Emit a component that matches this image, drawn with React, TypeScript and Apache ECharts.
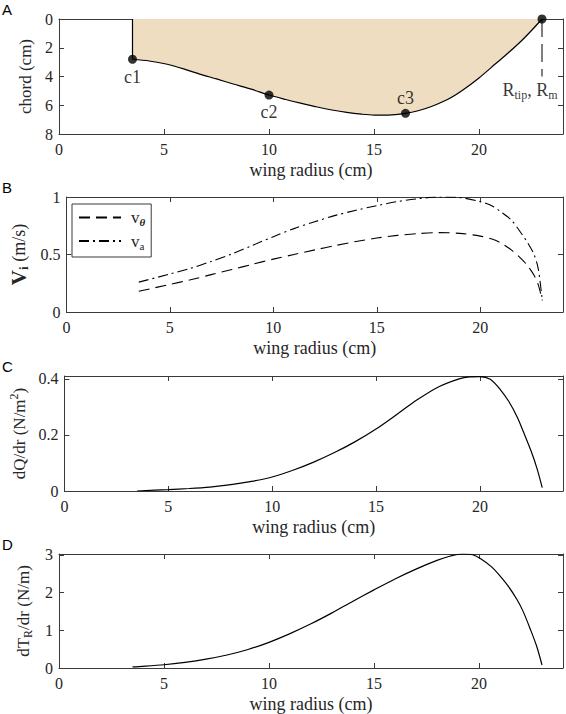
import React, { useEffect, useRef } from 'react';
import * as echarts from 'echarts';

// ---------- data ----------
const chordX = [3.5, 4.3, 5.1, 6.0, 6.7, 7.5, 8.3, 9.2, 10.0, 10.8, 11.5, 12.3, 13.0, 13.7, 14.4, 15.0, 15.7, 16.5, 17.1, 17.7, 18.5, 19.2, 20.0, 20.8, 21.4, 22.0, 22.5, 23.0];
const chordY = [2.8, 2.92, 3.13, 3.5, 3.83, 4.17, 4.52, 4.9, 5.29, 5.6, 5.85, 6.12, 6.33, 6.5, 6.62, 6.68, 6.68, 6.56, 6.38, 6.1, 5.6, 4.97, 4.1, 3.1, 2.35, 1.55, 0.8, 0.0];
const keyX = [3.5, 10, 16.5, 23];
const keyY = [2.8, 5.29, 6.56, 0];
const keyNames = ['c1', 'c2', 'c3', ''];
const rootLineY = [0, 2.8];
const tipDashY = [0, 4];

const velX = [3.5, 5, 6, 7, 8, 9, 10, 11, 12, 13, 14, 15, 16, 17, 18, 19, 20, 20.6, 21, 21.5, 22, 22.3, 22.6, 22.8, 23];
const vTheta = [0.18, 0.24, 0.28, 0.325, 0.37, 0.415, 0.46, 0.5, 0.54, 0.578, 0.613, 0.643, 0.666, 0.682, 0.69, 0.684, 0.66, 0.632, 0.6, 0.54, 0.46, 0.4, 0.32, 0.24, 0.1];
const vAxial = [0.26, 0.33, 0.38, 0.44, 0.505, 0.58, 0.655, 0.725, 0.785, 0.84, 0.885, 0.925, 0.96, 0.985, 1.0, 0.995, 0.96, 0.92, 0.87, 0.8, 0.68, 0.6, 0.5, 0.38, 0.1];

const dqX = [3.5, 5, 6, 7, 7.5, 8, 9, 10, 11, 12, 13, 14, 15, 16, 17, 18, 19, 19.5, 20, 20.5, 21, 21.4, 21.8, 22.1, 22.45, 22.75, 23];
const dqY = [0.0, 0.005, 0.009, 0.014, 0.018, 0.023, 0.034, 0.05, 0.074, 0.103, 0.137, 0.176, 0.221, 0.273, 0.326, 0.371, 0.4, 0.407, 0.408, 0.398, 0.36, 0.318, 0.263, 0.21, 0.145, 0.08, 0.012];

const dtX = [3.5, 4, 5, 6, 7, 8, 9, 10, 11, 12, 13, 14, 15, 16, 17, 18, 18.6, 19.2, 19.7, 20.1, 20.6, 21, 21.4, 21.8, 22.1, 22.45, 22.75, 23];
const dtY = [0.03, 0.045, 0.086, 0.15, 0.235, 0.345, 0.49, 0.68, 0.91, 1.17, 1.46, 1.77, 2.07, 2.36, 2.62, 2.85, 2.96, 3.02, 3.0, 2.89, 2.68, 2.44, 2.16, 1.82, 1.5, 1.02, 0.57, 0.08];

const xMin = 0, xMax = 24, xInterval = 5;

// ---------- style ----------
const SERIF = 'Liberation Serif';
const SANS = 'Liberation Sans';
const FRAME = '#3a3a3a';
const TXT = '#262626';
const GRID_TOPS = [19, 197, 376, 554];
const GRID_H = 115;
const GRID_LEFT = 59;
const GRID_W = 504;

const zip = (xs: number[], ys: number[]) => xs.map((x, i) => [x, ys[i]]);

const onTick = (interval: number) => (v: number) => {
  const k = v / interval;
  return Math.abs(k - Math.round(k)) < 1e-6 ? String(+v.toFixed(4)) : '';
};

function axesFor(g: number, yMin: number, yMax: number, yInt: number, inverse: boolean, yName: string, yGap: number, yRich: any) {
  const common = {
    axisLine: { show: true, onZero: false, lineStyle: { color: FRAME, width: 1 } },
    axisTick: { show: true, inside: true, length: 5, lineStyle: { color: FRAME, width: 1 } },
    splitLine: { show: false },
  };
  const xs = [
    {
      type: 'value', gridIndex: g, position: 'bottom', min: xMin, max: xMax, interval: xInterval,
      ...common,
      axisLabel: { show: true, margin: 7, color: TXT, fontFamily: SERIF, fontSize: 16, formatter: onTick(xInterval) },
      name: 'wing radius (cm)', nameLocation: 'middle', nameGap: 27,
      nameTextStyle: { color: TXT, fontFamily: SERIF, fontSize: 18 },
    },
    {
      type: 'value', gridIndex: g, position: 'top', min: xMin, max: xMax, interval: xInterval,
      ...common, axisLabel: { show: false },
    },
  ];
  const ys = [
    {
      type: 'value', gridIndex: g, position: 'left', min: yMin, max: yMax, interval: yInt, inverse,
      ...common,
      axisLabel: { show: true, margin: 6, color: TXT, fontFamily: SERIF, fontSize: 16, formatter: onTick(yInt) },
      name: yName, nameLocation: 'middle', nameGap: yGap,
      nameTextStyle: { color: TXT, fontFamily: SERIF, fontSize: 17, rich: yRich },
    },
    {
      type: 'value', gridIndex: g, position: 'right', min: yMin, max: yMax, interval: yInt, inverse,
      ...common, axisLabel: { show: false },
    },
  ];
  return { xs, ys };
}

export default function App() {
  const ref = useRef<HTMLDivElement>(null);
  useEffect(() => {
    if (!ref.current) return;
    const chart = echarts.init(ref.current, undefined, { renderer: 'svg' });

    const aA = axesFor(0, 0, 8, 2, true, 'chord (cm)', 22, {});
    const aB = axesFor(1, 0, 1, 0.5, false, '{b|V}{bs|i}{n| (m/s)}', 30, {
      b: { fontFamily: SERIF, fontSize: 21, fontWeight: 'bold', color: TXT, lineHeight: 22 },
      bs: { fontFamily: SERIF, fontSize: 13, fontWeight: 'bold', color: TXT, lineHeight: 13, verticalAlign: 'bottom' },
      n: { fontFamily: SERIF, fontSize: 18, color: TXT, lineHeight: 22 },
    });
    const aC = axesFor(2, 0, 0.41, 0.2, false, '{n|dQ/dr (N/m}{sup|2}{n|)}', 30, {
      n: { fontFamily: SERIF, fontSize: 17, color: TXT, lineHeight: 22 },
      sup: { fontFamily: SERIF, fontSize: 12, color: TXT, lineHeight: 12, verticalAlign: 'top' },
    });
    const aD = axesFor(3, 0, 3.02, 1, false, '{n|dT}{sub|R}{n|/dr (N/m)}', 19, {
      n: { fontFamily: SERIF, fontSize: 17, color: TXT, lineHeight: 22 },
      sub: { fontFamily: SERIF, fontSize: 12, color: TXT, lineHeight: 12, verticalAlign: 'bottom' },
    });

    const keyLabelCfg = [
      { position: 'bottom', distance: 4, offset: [8, 0] },
      { position: 'bottom', distance: 3, offset: [8, 0] },
      { position: 'top', distance: 2, offset: [10, 0] },
      { show: false },
    ];

    const option: any = {
      animation: false,
      backgroundColor: '#ffffff',
      grid: GRID_TOPS.map((t) => ({ left: GRID_LEFT, top: t, width: GRID_W, height: GRID_H, containLabel: false })),
      xAxis: [...aA.xs, ...aB.xs, ...aC.xs, ...aD.xs],
      yAxis: [...aA.ys, ...aB.ys, ...aC.ys, ...aD.ys],
      legend: {
        data: ['vtheta', 'va'],
        left: 72, top: 204, orient: 'vertical',
        backgroundColor: '#fff', borderColor: FRAME, borderWidth: 1,
        padding: [5, 6, 6, 6], itemWidth: 42, itemHeight: 12, itemGap: 5,
        itemStyle: { color: 'rgba(0,0,0,0)', borderColor: 'rgba(0,0,0,0)', borderWidth: 0 },
        textStyle: {
          fontFamily: SERIF, fontSize: 17, color: TXT,
          rich: {
            v: { fontFamily: SERIF, fontSize: 17, color: TXT, lineHeight: 20, padding: [0, 0, 0, 5] },
            s: { fontFamily: SERIF, fontSize: 11, color: TXT, lineHeight: 11, verticalAlign: 'bottom', fontWeight: 'bold', fontStyle: 'italic' },
            s2: { fontFamily: SERIF, fontSize: 11, color: TXT, lineHeight: 11, verticalAlign: 'bottom' },
          },
        },
        formatter: (n: string) => (n === 'vtheta' ? '{v|v}{s|θ}' : '{v|v}{s2|a}'),
      },
      graphic: [
        { type: 'text', left: 2, top: 2, style: { text: 'A', fontFamily: SANS, fontSize: 15, fill: '#000' } },
        { type: 'text', left: 2, top: 180, style: { text: 'B', fontFamily: SANS, fontSize: 15, fill: '#000' } },
        { type: 'text', left: 2, top: 359, style: { text: 'C', fontFamily: SANS, fontSize: 15, fill: '#000' } },
        { type: 'text', left: 2, top: 537, style: { text: 'D', fontFamily: SANS, fontSize: 15, fill: '#000' } },
      ],
      series: [
        {
          name: 'chord', type: 'line', xAxisIndex: 0, yAxisIndex: 0, data: zip(chordX, chordY),
          smooth: 0.3, showSymbol: false, symbol: 'none', z: 1,
          lineStyle: { color: '#000', width: 1.2 },
          areaStyle: { origin: 'start', color: '#EFDDC1', opacity: 1 },
        },
        {
          name: 'root', type: 'line', xAxisIndex: 0, yAxisIndex: 0,
          data: rootLineY.map((y) => [keyX[0], y]), symbol: 'none',
          lineStyle: { color: '#000', width: 1.2 },
        },
        {
          name: 'tipdash', type: 'line', xAxisIndex: 0, yAxisIndex: 0,
          data: tipDashY.map((y) => [keyX[3], y]), symbol: 'none',
          lineStyle: { color: '#000', width: 1, type: [18, 7] },
        },
        {
          name: 'tiplabel', type: 'scatter', xAxisIndex: 0, yAxisIndex: 0, z: 10,
          data: [[keyX[3], tipDashY[1]]], symbolSize: 0,
          label: {
            show: true, position: 'bottom', distance: 2, offset: [-12, 0],
            formatter: '{r|R}{s|tip}{r|, R}{s|m}',
            rich: {
              r: { fontFamily: SERIF, fontSize: 18, color: '#000', lineHeight: 22 },
              s: { fontFamily: SERIF, fontSize: 12, color: '#000', lineHeight: 12, verticalAlign: 'bottom' },
            },
          },
        },
        {
          name: 'keys', type: 'scatter', xAxisIndex: 0, yAxisIndex: 0, symbolSize: 9, z: 10,
          itemStyle: { color: '#000' },
          labelLayout: { hideOverlap: false },
          data: keyX.map((x, i) => ({
            value: [x, keyY[i]], name: keyNames[i],
            label: { show: i < 3, formatter: keyNames[i], fontFamily: SERIF, fontSize: 18, color: '#000', ...keyLabelCfg[i] },
          })),
        },
        {
          name: 'vtheta', type: 'line', xAxisIndex: 2, yAxisIndex: 2, data: zip(velX, vTheta),
          smooth: 0.3, symbol: 'none', lineStyle: { color: '#000', width: 1.1, type: [11, 6] },
          itemStyle: { color: '#000' },
        },
        {
          name: 'va', type: 'line', xAxisIndex: 2, yAxisIndex: 2, data: zip(velX, vAxial),
          smooth: 0.3, symbol: 'none', lineStyle: { color: '#000', width: 1.1, type: [10, 4, 2, 4] },
          itemStyle: { color: '#000' },
        },
        {
          name: 'dq', type: 'line', xAxisIndex: 4, yAxisIndex: 4, data: zip(dqX, dqY),
          smooth: 0.3, symbol: 'none', lineStyle: { color: '#000', width: 1.2 },
        },
        {
          name: 'dt', type: 'line', xAxisIndex: 6, yAxisIndex: 6, data: zip(dtX, dtY),
          smooth: 0.3, symbol: 'none', lineStyle: { color: '#000', width: 1.2 },
        },
      ],
    };
    chart.setOption(option);
    return () => chart.dispose();
  }, []);
  return <div ref={ref} style={{ position: 'absolute', left: 0, top: 0, width: 566, height: 714 }} />;
}
